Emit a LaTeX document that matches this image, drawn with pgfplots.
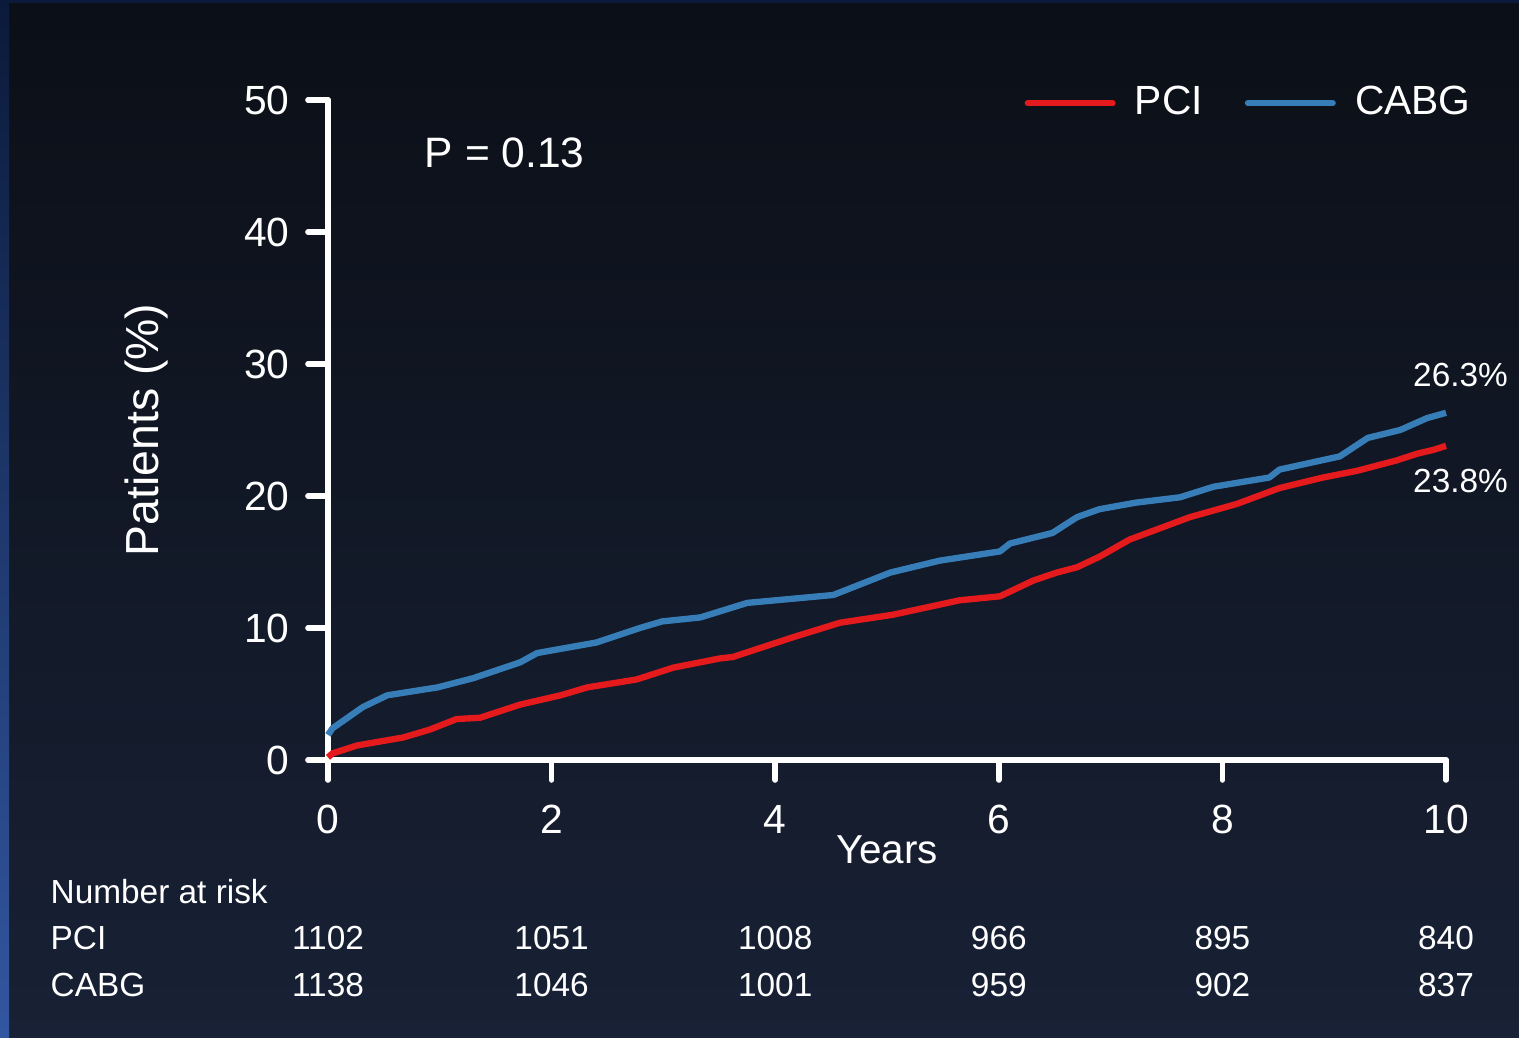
\documentclass[border=0pt]{standalone}
\usepackage{pgfplots}
\pgfplotsset{compat=1.18}
\usepackage{fontspec}
\setmainfont{Liberation Sans}
\definecolor{bgtop}{HTML}{0B0F17}
\definecolor{bgbot}{HTML}{182135}
\definecolor{stripetop}{HTML}{0B1A3A}
\definecolor{stripebot}{HTML}{3256A0}
\definecolor{pcired}{HTML}{E41A1C}
\definecolor{cabgblue}{HTML}{377EB8}
\tikzset{risk/.style={white, anchor=center, inner sep=0pt, font=\fontsize{9.5}{11}\selectfont},
  riskl/.style={white, anchor=west, inner sep=0pt, font=\fontsize{9.5}{11}\selectfont}}
\begin{document}
\begin{tikzpicture}[x=1mm,y=1mm]
\useasboundingbox (0,0) rectangle (151.9,103.8);
\shade[top color=bgtop, bottom color=bgbot] (0,0) rectangle (151.9,103.8);
\shade[top color=stripetop, bottom color=stripebot] (0,0) rectangle (0.9,103.8);
\fill[stripetop] (0.9,103.5) rectangle (151.9,103.8);
\begin{axis}[
  at={(32.8mm,27.8mm)}, anchor=south west,
  scale only axis, width=111.8mm, height=66mm,
  xmin=0, xmax=10, ymin=0, ymax=50,
  axis lines=left, axis line style={-, white, line width=1.6pt, line cap=round},
  xtick={0,2,...,10}, ytick={0,10,...,50},
  tick align=outside, major tick length=2mm,
  tick style={white, line width=1.6pt, line cap=round},
  every tick label/.append style={white, font=\fontsize{11.6}{13}\selectfont},
  /pgf/number format/assume math mode=true,
  xticklabel style={yshift=-1.3mm},
  yticklabel style={xshift=-0.6mm},
  xlabel={Years}, ylabel={Patients (\%)},
  xlabel style={white, font=\fontsize{11.5}{13}\selectfont, at={(axis description cs:0.5,0)}, anchor=center, yshift=-9mm},
  ylabel style={white, font=\fontsize{13.2}{15}\selectfont, at={(axis description cs:0,0.5)}, anchor=center, yshift=18.2mm},
  clip=false,
  legend columns=2,
  legend style={at={(axis cs:6.225,49.75)}, anchor=west, draw=none, fill=none,
    text=white, font=\fontsize{11.6}{13}\selectfont, inner sep=0pt,
    /tikz/every even column/.append style={column sep=3.5mm}},
  legend image code/.code={\draw[#1, line cap=round, line width=1.7pt] (0mm,0mm) -- (8.5mm,0mm);\path (9.7mm,0mm);},
]
\addplot[pcired, line width=1.8pt, line join=round] coordinates {
(0,0.2) (0.04,0.5) (0.26,1.1) (0.67,1.7) (0.91,2.3) (1.15,3.1) (1.36,3.2)
(1.72,4.2) (2.08,4.9) (2.32,5.5) (2.76,6.1) (3.09,7.0) (3.51,7.7) (3.62,7.8)
(4.16,9.3) (4.58,10.4) (5.05,11.0) (5.65,12.1) (6.01,12.4) (6.31,13.6)
(6.52,14.2) (6.70,14.6) (6.90,15.4) (7.17,16.7) (7.71,18.4) (8.13,19.4)
(8.51,20.6) (8.90,21.4) (9.20,21.9) (9.56,22.7) (9.74,23.2) (9.89,23.5) (10.0,23.8)
};
\addlegendentry{PCI}
\addplot[cabgblue, line width=1.8pt, line join=round] coordinates {
(0,1.9) (0.04,2.4) (0.31,4.0) (0.53,4.9) (0.98,5.5) (1.30,6.2) (1.72,7.4)
(1.87,8.1) (2.40,8.9) (2.79,10.0) (2.99,10.5) (3.33,10.8) (3.75,11.9)
(4.52,12.5) (4.82,13.5) (5.03,14.2) (5.47,15.1) (6.01,15.8) (6.10,16.4)
(6.48,17.2) (6.70,18.4) (6.90,19.0) (7.23,19.5) (7.62,19.9) (7.92,20.7)
(8.42,21.4) (8.51,22.0) (9.05,23.0) (9.30,24.4) (9.59,25.0) (9.83,25.9) (10.0,26.3)
};
\addlegendentry{CABG}
\node[white, anchor=west, inner sep=0pt, font=\fontsize{12.1}{14}\selectfont] at (axis cs:0.86,46.0) {P = 0.13};
\node[riskl] at (axis cs:9.70,29.2) {26.3\%};
\node[riskl] at (axis cs:9.70,21.1) {23.8\%};
\node[riskl] at (axis cs:-2.487,-10.0) {Number at risk};
\node[riskl] at (axis cs:-2.487,-13.48) {PCI};
\node[riskl] at (axis cs:-2.487,-17.05) {CABG};
\node[risk] at (axis cs:0,-13.48) {1102};
\node[risk] at (axis cs:2,-13.48) {1051};
\node[risk] at (axis cs:4,-13.48) {1008};
\node[risk] at (axis cs:6,-13.48) {966};
\node[risk] at (axis cs:8,-13.48) {895};
\node[risk] at (axis cs:10,-13.48) {840};
\node[risk] at (axis cs:0,-17.05) {1138};
\node[risk] at (axis cs:2,-17.05) {1046};
\node[risk] at (axis cs:4,-17.05) {1001};
\node[risk] at (axis cs:6,-17.05) {959};
\node[risk] at (axis cs:8,-17.05) {902};
\node[risk] at (axis cs:10,-17.05) {837};
\end{axis}
\end{tikzpicture}
\end{document}
